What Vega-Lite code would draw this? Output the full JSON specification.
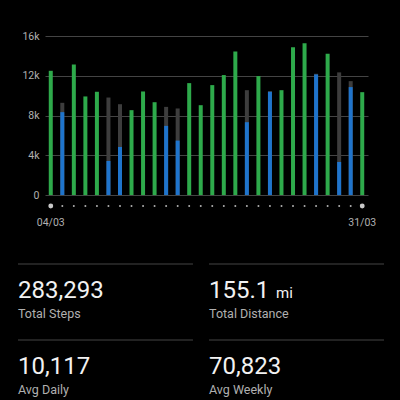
{
  "$schema": "https://vega.github.io/schema/vega-lite/v6.json",
  "background": "#000000",
  "autosize": {"type": "pad"},
  "padding": {"top": 31, "left": 17, "right": 17, "bottom": 0},
  "bounds": "flush",
  "spacing": 58,
  "config": {
    "view": {"stroke": null},
    "font": "Roboto"
  },
  "vconcat": [
    {
      "width": 323,
      "height": 170,
      "data": {"values": [
        {"day": "04/03", "steps": 12500, "goal": null, "status": "met"},
        {"day": "05/03", "steps": 8340, "goal": 9280, "status": "under"},
        {"day": "06/03", "steps": 13140, "goal": null, "status": "met"},
        {"day": "07/03", "steps": 9920, "goal": null, "status": "met"},
        {"day": "08/03", "steps": 10390, "goal": null, "status": "met"},
        {"day": "09/03", "steps": 3430, "goal": 9810, "status": "under"},
        {"day": "10/03", "steps": 4840, "goal": 9140, "status": "under"},
        {"day": "11/03", "steps": 8540, "goal": null, "status": "met"},
        {"day": "12/03", "steps": 10420, "goal": null, "status": "met"},
        {"day": "13/03", "steps": 9340, "goal": null, "status": "met"},
        {"day": "14/03", "steps": 6960, "goal": 8870, "status": "under"},
        {"day": "15/03", "steps": 5480, "goal": 8710, "status": "under"},
        {"day": "16/03", "steps": 11260, "goal": null, "status": "met"},
        {"day": "17/03", "steps": 9040, "goal": null, "status": "met"},
        {"day": "18/03", "steps": 11060, "goal": null, "status": "met"},
        {"day": "19/03", "steps": 12070, "goal": null, "status": "met"},
        {"day": "20/03", "steps": 14450, "goal": null, "status": "met"},
        {"day": "21/03", "steps": 7330, "goal": 10550, "status": "under"},
        {"day": "22/03", "steps": 11970, "goal": null, "status": "met"},
        {"day": "23/03", "steps": 10390, "goal": 10450, "status": "under"},
        {"day": "24/03", "steps": 10550, "goal": null, "status": "met"},
        {"day": "25/03", "steps": 14860, "goal": null, "status": "met"},
        {"day": "26/03", "steps": 15260, "goal": null, "status": "met"},
        {"day": "27/03", "steps": 12130, "goal": 12200, "status": "under"},
        {"day": "28/03", "steps": 14220, "goal": null, "status": "met"},
        {"day": "29/03", "steps": 3330, "goal": 12340, "status": "under"},
        {"day": "30/03", "steps": 10860, "goal": 11460, "status": "under"},
        {"day": "31/03", "steps": 10350, "goal": null, "status": "met"}
      ]},
      "encoding": {
        "x": {
          "field": "day", "type": "ordinal", "sort": "ascending",
          "scale": {"paddingInner": 0, "paddingOuter": 0},
          "axis": {
            "title": null, "domain": false, "ticks": false, "tickSize": 0,
            "values": ["04/03", "31/03"], "labelAngle": 0,
            "labelColor": "#b0b0b0", "labelFontSize": 10.5, "labelPadding": 11
          }
        }
      },
      "layer": [
        {
          "transform": [{"filter": "datum.status === 'under'"}],
          "mark": {"type": "bar", "width": 4, "color": "#3d3d3d"},
          "encoding": {
            "y": {
              "field": "goal", "type": "quantitative",
              "scale": {"domain": [-1100, 16000], "nice": false, "zero": false},
              "axis": {
                "title": null, "values": [0, 4000, 8000, 12000, 16000], "format": "~s",
                "labelExpr": "datum.value === 0 ? '0' : datum.label",
                "domain": false, "ticks": false, "gridColor": "#444444", "gridWidth": 1,
                "labelColor": "#b0b0b0", "labelFontSize": 10.5, "labelPadding": 6
              }
            },
            "y2": {"datum": 0}
          }
        },
        {
          "mark": {"type": "bar", "width": 4},
          "encoding": {
            "y": {"field": "steps", "type": "quantitative"},
            "y2": {"datum": 0},
            "color": {
              "field": "status", "type": "nominal",
              "scale": {"domain": ["met", "under"], "range": ["#2eaa4b", "#1f74cc"]},
              "legend": null
            }
          }
        },
        {
          "mark": {"type": "point", "filled": true, "opacity": 1},
          "encoding": {
            "y": {"datum": -1100},
            "size": {
              "condition": {"test": "datum.day === '04/03' || datum.day === '31/03'", "value": 24},
              "value": 4
            },
            "color": {
              "condition": {"test": "datum.day === '04/03' || datum.day === '31/03'", "value": "#c8c8c8"},
              "value": "#b0b0b0"
            }
          }
        }
      ]
    },
    {
      "width": 323,
      "height": 136,
      "data": {"values": [
        {"col": "left", "row": 0, "value": "283,293", "label": "Total Steps", "unit": ""},
        {"col": "right", "row": 0, "value": "155.1", "label": "Total Distance", "unit": "mi"},
        {"col": "left", "row": 1, "value": "10,117", "label": "Avg Daily", "unit": ""},
        {"col": "right", "row": 1, "value": "70,823", "label": "Avg Weekly", "unit": ""}
      ]},
      "encoding": {
        "x": {
          "field": "col", "type": "nominal", "sort": ["left", "right"], "bandPosition": 0,
          "scale": {"type": "band", "range": [-27, 339], "paddingInner": 0.084, "paddingOuter": 0},
          "axis": null
        },
        "y": {
          "field": "row", "type": "quantitative",
          "scale": {"domain": [0, 2], "range": [0, 152]},
          "axis": null
        }
      },
      "layer": [
        {
          "mark": {"type": "rule", "color": "#444444", "strokeWidth": 1},
          "encoding": {
            "x2": {"field": "col", "bandPosition": 1}
          }
        },
        {
          "mark": {"type": "text", "align": "left", "baseline": "alphabetic", "dy": 34, "fontSize": 24, "color": "#f2f2f2"},
          "encoding": {"text": {"field": "value"}}
        },
        {
          "mark": {"type": "text", "align": "left", "baseline": "alphabetic", "dy": 34, "dx": 67, "fontSize": 15, "color": "#f2f2f2"},
          "encoding": {"text": {"field": "unit"}}
        },
        {
          "mark": {"type": "text", "align": "left", "baseline": "alphabetic", "dy": 54, "fontSize": 12.5, "color": "#b0b0b0"},
          "encoding": {"text": {"field": "label"}}
        }
      ]
    }
  ]
}
